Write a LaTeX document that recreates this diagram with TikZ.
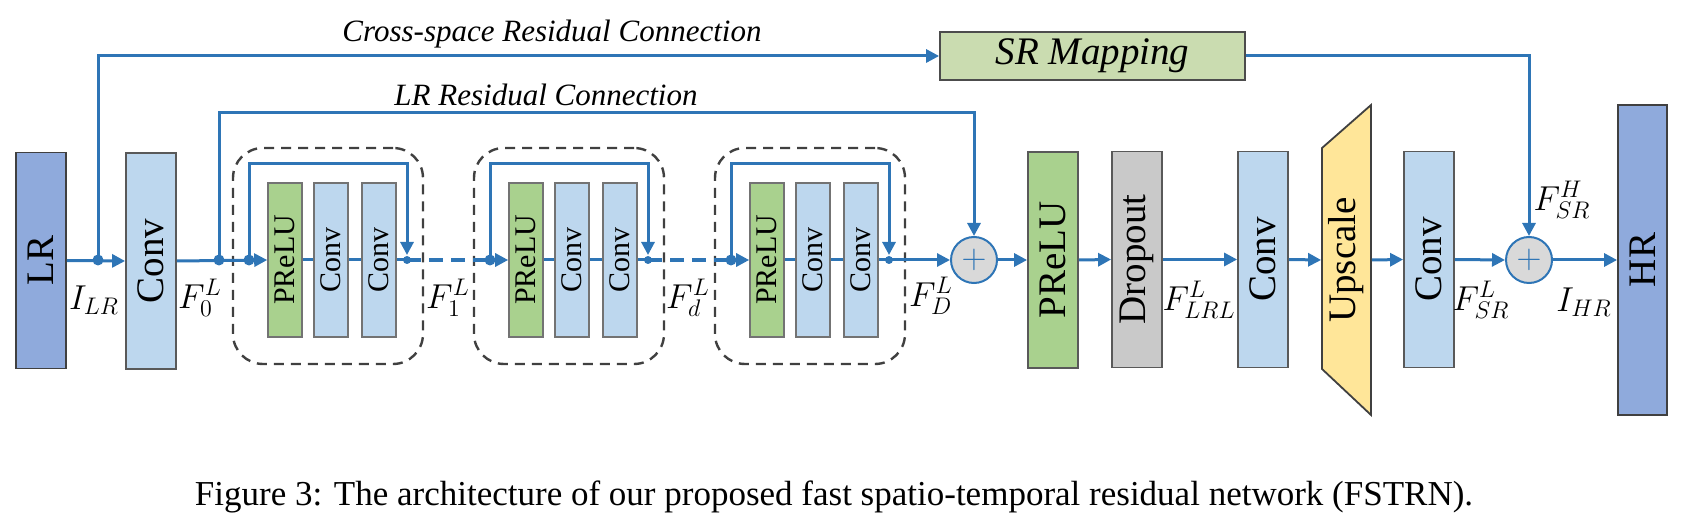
\documentclass[tikz,border=0pt]{standalone}
\usepackage{fontspec}
\setmainfont{Liberation Serif}
\usepackage{graphicx}
\usetikzlibrary{arrows.meta}

\definecolor{flowblue}{HTML}{2E75B6}
\definecolor{iofill}{HTML}{8FAADC}
\definecolor{convfill}{HTML}{BDD7EE}
\definecolor{relufill}{HTML}{A9D18E}
\definecolor{dropfill}{HTML}{C9C9C9}
\definecolor{upfill}{HTML}{FFE699}
\definecolor{mapfill}{HTML}{CADCB0}

\newcommand{\layerfont}{\fontsize{19.5}{20}\selectfont}
\newcommand{\cellfont}{\fontsize{15}{16}\selectfont}
\newcommand{\symfont}{\fontsize{18}{19}\selectfont}

\tikzset{
  flow/.style={draw=flowblue, line width=1.5pt},
  arr/.style={flow, -{Triangle[length=6.5pt, width=6.5pt]}},
  layer/.style={draw=black!65, line width=0.9pt, inner sep=0pt,
    minimum width=25pt, minimum height=108pt, font=\layerfont},
  cell/.style={draw=black!55, line width=0.8pt, inner sep=0pt,
    minimum width=17pt, minimum height=77pt, font=\cellfont},
  blockbox/.style={draw=black!75, line width=1.2pt, dash pattern=on 5pt off 3.5pt,
    rounded corners=15pt, minimum width=95pt, minimum height=108pt},
  addop/.style={circle, draw=flowblue, line width=1pt, fill=black!15,
    minimum size=23pt, inner sep=0pt, text=flowblue, font=\symfont},
  dot/.style={circle, fill=flowblue, inner sep=0pt, minimum size=5.5pt},
  sym/.style={font=\symfont, inner sep=0pt}
}

\begin{document}
\begin{tikzpicture}[x=0.5pt, y=-0.5pt]
    \useasboundingbox (0,0) rectangle (1689,523);
    % --- input, first conv ---
    \node[layer, fill=iofill, draw=black!75] (lr) at (41,260.5) {\rotatebox{90}{LR}};
    \node[layer, fill=convfill] (conv0) at (151,261) {\rotatebox{90}{Conv}};
    \coordinate (xsplit) at (98,260);
    \coordinate (lrsplit) at (219,260);
    \draw[arr] (lr.east) -- (conv0.west);
    % --- residual blocks ---
    \foreach \bx/\bn in {285/a, 526/b, 767/c} {
        \node[blockbox] (box-\bn) at ({\bx+43},256) {};
        \node[cell, fill=relufill] (\bn1) at (\bx,260) {\rotatebox{90}{PReLU}};
        \node[cell, fill=convfill] (\bn2) at ({\bx+46},260) {\rotatebox{90}{Conv}};
        \node[cell, fill=convfill] (\bn3) at ({\bx+94},260) {\rotatebox{90}{Conv}};
        \coordinate (in-\bn) at ({\bx-36},260);
        \coordinate (out-\bn) at ({\bx+122},260);
        \draw[flow] (\bn1.east) -- (\bn2.west) (\bn2.east) -- (\bn3.west) (\bn3.east) -- (out-\bn);
        % inner skip
        \draw[arr, shorten >=2.5pt] (in-\bn) -- ++(0,-96) -| (out-\bn);
        \node[dot] at (in-\bn) {};
        \node[dot, minimum size=4pt] at (out-\bn) {};
    }
    \draw[arr] (conv0.east) -- (a1.west);
    \draw[flow, line width=2pt, dash pattern=on 7pt off 4pt] (out-a) -- (in-b);
    \draw[arr] (in-b) -- (b1.west);
    \draw[flow, line width=2pt, dash pattern=on 7pt off 4pt] (out-b) -- (in-c);
    \draw[arr] (in-c) -- (c1.west);
    % --- tail ---
    \node[addop] (add1) at (974,260) {$+$};
    \node[layer, fill=relufill] (relu) at (1053,260) {\rotatebox{90}{PReLU}};
    \node[layer, fill=dropfill] (drop) at (1137,259.5) {\rotatebox{90}{Dropout}};
    \node[layer, fill=convfill] (conv1) at (1263,259.5) {\rotatebox{90}{Conv}};
    \draw[draw=black!75, line width=0.9pt, fill=upfill] (1322,148) -- (1371,105) -- (1371,415) -- (1322,369) -- cycle;
    \node[layer, draw=none, minimum width=24.5pt] (up) at (1346.5,260) {\rotatebox{90}{Upscale}};
    \node[layer, fill=convfill] (conv2) at (1429,259.5) {\rotatebox{90}{Conv}};
    \node[addop] (add2) at (1529,260) {$+$};
    \node[layer, fill=iofill, draw=black!75, minimum width=24.5pt, minimum height=155pt] (hr) at (1642.5,260) {\rotatebox{90}{HR}};
    \draw[arr] (out-c) -- (add1.west);
    \draw[arr] (add1.east) -- (relu.west);
    \draw[arr] (relu.east) -- (drop.west);
    \draw[arr] (drop.east) -- (conv1.west);
    \draw[arr] (conv1.east) -- (up.west);
    \draw[arr] (up.east) -- (conv2.west);
    \draw[arr] (conv2.east) -- (add2.west);
    \draw[arr] (add2.east) -- (hr.west);
    % --- long skips ---
    \node[draw=black!70, line width=0.9pt, fill=mapfill, minimum width=152.5pt, minimum height=23pt,
        font=\layerfont\itshape] (srmap) at (1092.5,56) {SR Mapping};
    \coordinate (lrtop) at (219,113);
    \draw[arr] (xsplit) |- (srmap.west);
    \draw[arr] (srmap.east) -| (add2.north);
    \draw[arr] (lrsplit) -- (lrtop) -| (add1.north);
    \node[dot] at (xsplit) {};
    \node[dot] at (lrsplit) {};
    \node[font=\fontsize{15.5}{16}\selectfont\itshape] (xlabel) at (552,34) {Cross-space Residual Connection};
    \node[font=\fontsize{15.5}{16}\selectfont\itshape] (lrlabel) at (546,95) {LR Residual Connection};
    % --- feature labels ---
    \node[sym] (ilr) at (94,300) {$I_{LR}$};
    \node[sym] (f0) at (200,298) {$F_0^L$};
    \node[sym] (f1) at (448,298) {$F_1^L$};
    \node[sym] (fd) at (688,298) {$F_d^L$};
    \node[sym] (fD) at (931,296) {$F_D^L$};
    \node[sym] (flrl) at (1199,300) {$F_{LRL}^L$};
    \node[sym] (fsr) at (1481,300) {$F_{SR}^L$};
    \node[sym] (ihr) at (1584,302) {$I_{HR}$};
    \node[sym] (fsrh) at (1562,200) {$F_{SR}^H$};
    % --- caption ---
    \node[font=\fontsize{17.5}{19}\selectfont] (caption) at (834,497)
        {Figure 3: The architecture of our proposed fast spatio-temporal residual network (FSTRN).};
\end{tikzpicture}
\end{document}
